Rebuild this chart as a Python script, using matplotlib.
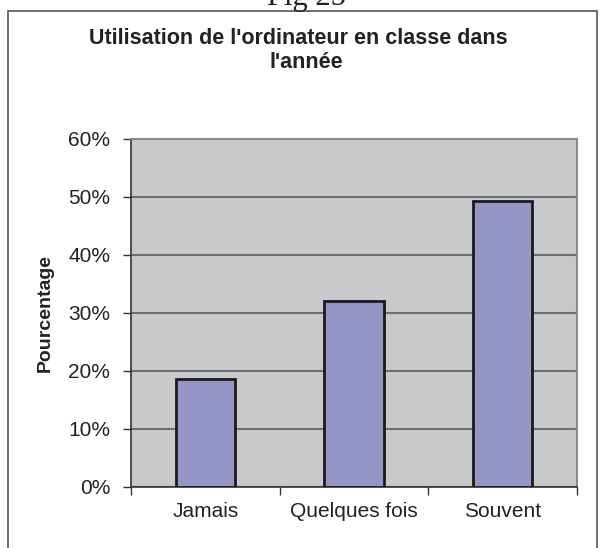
import matplotlib.pyplot as plt
from matplotlib.patches import Rectangle
from matplotlib.ticker import FuncFormatter

categories = ['Jamais', 'Quelques fois', 'Souvent']
values = [18.6, 32.0, 49.3]
y_ticks = [0, 10, 20, 30, 40, 50, 60]

plt.rcParams['font.family'] = ['Liberation Sans', 'DejaVu Sans']

W, H = 603, 548
fig = plt.figure(figsize=(W / 100, H / 100), dpi=100)
fig.patch.set_facecolor('white')

# outer frame of the chart (bottom edge cut off)
fig.patches.append(Rectangle((8 / W, -0.02), 589 / W, (H - 11) / H + 0.02,
                             transform=fig.transFigure, fill=False,
                             edgecolor='#555555', linewidth=1.2))

# caption cut off at the top of the page
fig.text(306 / W, 1 - 5 / H, 'Fig 25', ha='center', va='baseline',
         family=['Liberation Serif', 'DejaVu Serif'], fontsize=22, color='#222222')

ax = fig.add_axes([131 / W, (H - 487) / H, 446 / W, 348 / H])
ax.set_facecolor('#c8c9cb')

x = range(len(categories))
ax.bar(x, values, width=0.4, color='#9595c8', edgecolor='#1a1a1a', linewidth=2, zorder=3)

ax.set_xlim(-0.5, 2.5)
ax.set_ylim(0, 60)
ax.set_yticks(y_ticks)
ax.yaxis.set_major_formatter(FuncFormatter(lambda v, p: f'{v:.0f}%'))
ax.grid(axis='y', color='#6e6e6e', linewidth=1.5, zorder=1)

ax.set_xticks(list(x))
ax.set_xticklabels(categories)
ax.set_xticks([-0.5, 0.5, 1.5, 2.5], minor=True)
ax.tick_params(axis='x', which='major', length=0, pad=11, labelsize=15, colors='#222222')
ax.tick_params(axis='x', which='minor', length=6, width=1, color='#333333')
ax.tick_params(axis='y', length=6, width=1, pad=9, labelsize=15, color='#333333',
               labelcolor='#222222')

for s in ['top', 'right']:
    ax.spines[s].set_color('#8a8a8a')
    ax.spines[s].set_linewidth(1.5)
for s in ['left', 'bottom']:
    ax.spines[s].set_color('#333333')
    ax.spines[s].set_linewidth(1.2)

ax.set_ylabel('Pourcentage', fontsize=14, fontweight='bold', color='#222222')
ax.yaxis.set_label_coords(45 / W, 0.5, transform=fig.transFigure)
ax.yaxis.label.set_transform(fig.transFigure)
ax.yaxis.label.set_position((45 / W, (H - 313) / H))
ax.yaxis.label.set_va('center')

fig.text(298 / W, 1 - 39 / H, "Utilisation de l'ordinateur en classe dans",
         ha='center', va='center', fontsize=15.5, fontweight='bold', color='#222222')
fig.text(306 / W, 1 - 62 / H, "l'année",
         ha='center', va='center', fontsize=15.5, fontweight='bold', color='#222222')

fig.savefig('out.png', dpi=100)
